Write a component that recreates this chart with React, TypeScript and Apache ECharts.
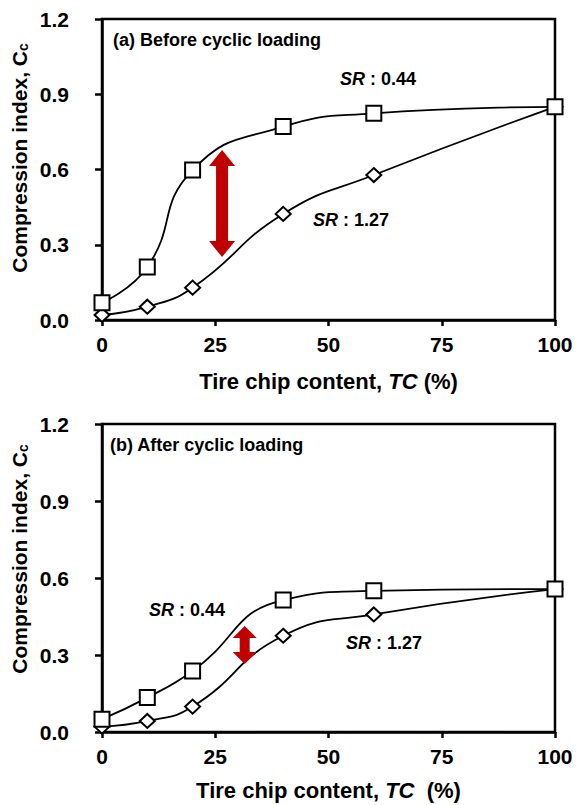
import React, { useEffect, useRef } from "react";
import * as echarts from "echarts";

const TC = [0, 10, 20, 40, 60, 100];
const beforeSR044 = [0.069, 0.211, 0.598, 0.771, 0.824, 0.85];
const beforeSR127 = [0.02, 0.053, 0.129, 0.423, 0.578, 0.85];
const afterSR044 = [0.05, 0.134, 0.238, 0.514, 0.55, 0.557];
const afterSR127 = [0.021, 0.043, 0.099, 0.375, 0.458, 0.557];
// arrow: [TC, lower Cc, upper Cc]
const arrowBefore = [26.5, 0.251, 0.678];
const arrowAfter = [31.5, 0.265, 0.413];

const FONT = "Arial, 'Liberation Sans', sans-serif";

const pairs = (ys: number[]) => TC.map((x, i) => [x, ys[i]]);

export default function App() {
  const ref = useRef<HTMLDivElement>(null);
  useEffect(() => {
    if (!ref.current) return;
    const chart = echarts.init(ref.current, null, { renderer: "svg" });

    const xAxisBase = (gridIndex: number) => ({
      type: "value",
      gridIndex,
      min: 0,
      max: 100,
      interval: 25,
      splitLine: { show: false },
      axisLine: { show: true, lineStyle: { color: "#000", width: 2.5 } },
      axisTick: { show: true, inside: false, length: 6, lineStyle: { color: "#000", width: 2.5 } },
      axisLabel: { margin: 14, color: "#000", fontSize: 21, fontWeight: "bold", fontFamily: FONT },
      nameLocation: "middle",
      nameTextStyle: { color: "#000", fontFamily: FONT },
    });
    const yAxisBase = (gridIndex: number) => ({
      type: "value",
      gridIndex,
      min: 0,
      max: 1.2,
      interval: 0.3,
      splitLine: { show: false },
      axisLine: { show: true, lineStyle: { color: "#000", width: 2.5 } },
      axisTick: { show: true, inside: false, length: 7, lineStyle: { color: "#000", width: 2.5 } },
      axisLabel: {
        margin: 33,
        color: "#000",
        fontSize: 21,
        fontWeight: "bold",
        fontFamily: FONT,
        formatter: (v: number) => v.toFixed(1),
      },
    });

    const lineSeries = (data: number[], idx: number, square: boolean) => ({
      type: "line",
      xAxisIndex: idx,
      yAxisIndex: idx,
      data: pairs(data),
      smooth: 0.5,
      symbol: square ? "rect" : "diamond",
      symbolSize: square ? 15 : [15, 14],
      showAllSymbol: true,
      lineStyle: { color: "#000", width: 1.8 },
      itemStyle: { color: "#fff", borderColor: "#000", borderWidth: 2 },
      z: square ? 4 : 3,
    });

    const arrowSeries = (val: number[], idx: number, hw: number, sw: number, hl: number) => ({
      type: "custom",
      xAxisIndex: idx,
      yAxisIndex: idx,
      data: [val],
      z: 5,
      renderItem: (_p: any, api: any) => {
        const x = api.value(0);
        const lo = api.coord([x, api.value(1)]);
        const hi = api.coord([x, api.value(2)]);
        const cx = lo[0];
        const top = hi[1];
        const bot = lo[1];
        return {
          type: "polygon",
          shape: {
            points: [
              [cx, top],
              [cx + hw, top + hl],
              [cx + sw, top + hl],
              [cx + sw, bot - hl],
              [cx + hw, bot - hl],
              [cx, bot],
              [cx - hw, bot - hl],
              [cx - sw, bot - hl],
              [cx - sw, top + hl],
              [cx - hw, top + hl],
            ],
          },
          style: { fill: "#C00000" },
        };
      },
    });

    const srText = (x: number, y: number, val: string) => ({
      type: "text",
      x,
      y,
      style: {
        text: `{i|SR} : ${val}`,
        fontSize: 18,
        fontWeight: "bold",
        fontFamily: FONT,
        fill: "#000",
        verticalAlign: "middle",
        rich: { i: { fontStyle: "italic", fontWeight: "bold", fontSize: 18, fontFamily: FONT } },
      },
    });

    const yName = (y: number) => ({
      type: "text",
      x: 19,
      y,
      rotation: Math.PI / 2,
      style: {
        text: "{b|Compression index, C}{s|c}",
        align: "center",
        verticalAlign: "middle",
        fill: "#000",
        rich: {
          b: { fontSize: 21, fontWeight: "bold", fontFamily: FONT, fill: "#000" },
          s: { fontSize: 14, fontWeight: "bold", fontFamily: FONT, fill: "#000", verticalAlign: "bottom", padding: [8, 0, 0, 0] },
        },
      },
    });

    const xName = (twoSpaces: boolean) =>
      `{b|Tire chip content, }{i|TC}{b|${twoSpaces ? "  " : " "}(%)}`;
    const xRich = {
      b: { fontSize: 22, fontWeight: "bold", fontFamily: FONT, color: "#000" },
      i: { fontSize: 22, fontWeight: "bold", fontStyle: "italic", fontFamily: FONT, color: "#000" },
    };

    chart.setOption({
      animation: false,
      backgroundColor: "#fff",
      grid: [
        { left: 102, top: 19, width: 453, height: 301, show: true, borderColor: "#000", borderWidth: 2.5, backgroundColor: "transparent" },
        { left: 102, top: 424, width: 453, height: 308, show: true, borderColor: "#000", borderWidth: 2.5, backgroundColor: "transparent" },
      ],
      xAxis: [
        { ...xAxisBase(0), name: xName(false), nameGap: 50, nameTextStyle: { rich: xRich } },
        { ...xAxisBase(1), name: xName(true), nameGap: 47, nameTextStyle: { rich: xRich } },
      ],
      yAxis: [yAxisBase(0), yAxisBase(1)],
      series: [
        lineSeries(beforeSR127, 0, false),
        lineSeries(beforeSR044, 0, true),
        lineSeries(afterSR127, 1, false),
        lineSeries(afterSR044, 1, true),
        arrowSeries(arrowBefore, 0, 13, 6, 16),
        arrowSeries(arrowAfter, 1, 12, 5, 12),
      ],
      graphic: [
        {
          type: "text",
          x: 113,
          y: 40,
          style: { text: "(a) Before cyclic loading", fontSize: 18, fontWeight: "bold", fontFamily: FONT, fill: "#000", verticalAlign: "middle" },
        },
        {
          type: "text",
          x: 110,
          y: 445,
          style: { text: "(b) After cyclic loading", fontSize: 18, fontWeight: "bold", fontFamily: FONT, fill: "#000", verticalAlign: "middle" },
        },
        srText(340, 79, "0.44"),
        srText(313, 220, "1.27"),
        srText(149, 610, "0.44"),
        srText(346, 643, "1.27"),
        yName(158),
        yName(559),
      ],
    });
    return () => chart.dispose();
  }, []);
  return <div ref={ref} style={{ width: 576, height: 805, position: "absolute", left: 0, top: 0 }} />;
}
